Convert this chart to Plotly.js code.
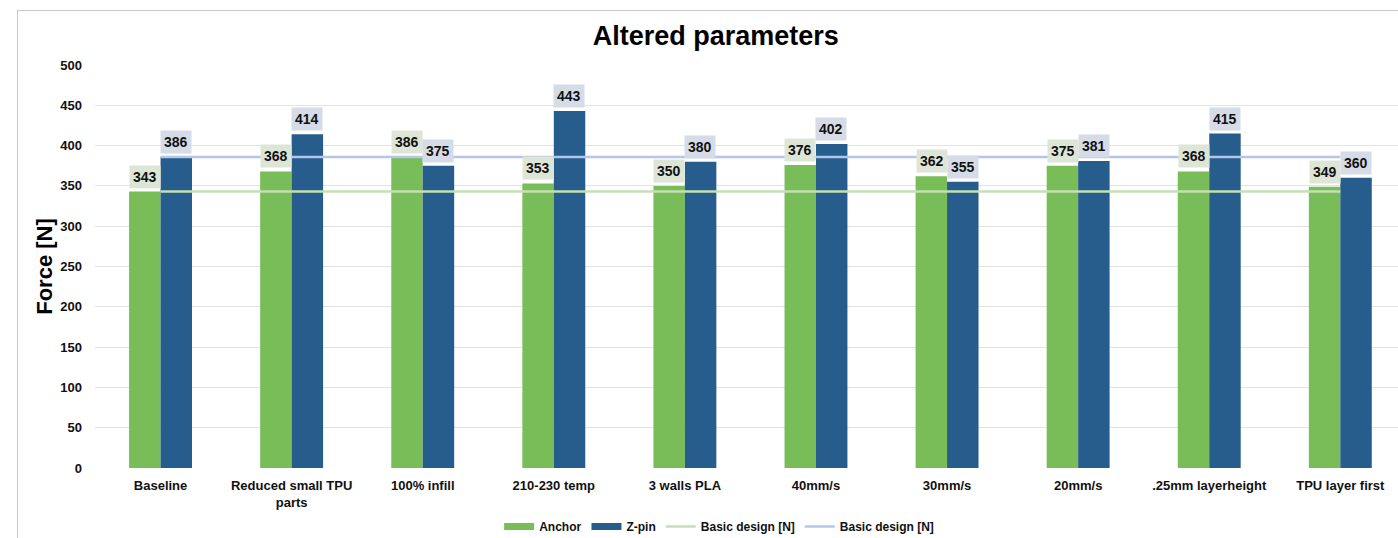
<!DOCTYPE html>
<html><head><meta charset="utf-8">
<script src="https://cdn.plot.ly/plotly-3.0.1.min.js"></script>
<style>
html,body{margin:0;padding:0;background:#fff;overflow:hidden;}
#frame{position:absolute;left:17px;top:10px;width:1400px;height:540px;border:1px solid #c8c8c8;box-sizing:border-box;}
#chart{position:absolute;left:0;top:0;width:1398px;height:538px;}
</style></head>
<body>
<div id="frame"></div>
<div id="chart"></div>
<script>
const categories = ["Baseline","Reduced small TPU<br>parts","100% infill","210-230 temp","3 walls PLA","40mm/s","30mm/s","20mm/s",".25mm layerheight","TPU layer first"];
const anchor = [343,368,386,353,350,376,362,375,368,349];
const zpin = [386,414,375,443,380,402,355,381,415,360];
const seriesNames = ["Anchor","Z-pin","Basic design [N]","Basic design [N]"];

const cAnchor = "#78bd58", cZpin = "#265d8c";
const cLineG = "#c5e0b4", cLineB = "#b4c7e7";
const F = "Liberation Sans, Arial, sans-serif";

const traces = [
  {type:"bar", name:seriesNames[0], x:categories, y:anchor, marker:{color:cAnchor}, showlegend:false},
  {type:"bar", name:seriesNames[1], x:categories, y:zpin, marker:{color:cZpin}, showlegend:false},
  {type:"scatter", mode:"lines", name:seriesNames[2], x:categories, y:categories.map(()=>anchor[0]), line:{color:cLineG,width:2.5}, showlegend:false},
  {type:"scatter", mode:"lines", name:seriesNames[3], x:categories, y:categories.map(()=>zpin[0]), line:{color:cLineB,width:2.5}, showlegend:false},
  // legend-only entries
  {type:"scatter", mode:"lines", name:seriesNames[0], x:[null], y:[null], line:{color:cAnchor,width:7}},
  {type:"scatter", mode:"lines", name:seriesNames[1], x:[null], y:[null], line:{color:cZpin,width:7}},
  {type:"scatter", mode:"lines", name:seriesNames[2], x:[null], y:[null], line:{color:cLineG,width:2.5}},
  {type:"scatter", mode:"lines", name:seriesNames[3], x:[null], y:[null], line:{color:cLineB,width:2.5}}
];

const annotations = [];
categories.forEach((c,i)=>{
  annotations.push({x:c, y:anchor[i], xref:"x", yref:"y", text:String(anchor[i]), showarrow:false,
    xshift:-15.5, yshift:3, yanchor:"bottom", bgcolor:"#dde5d6", borderpad:3,
    font:{family:F, size:14, color:"#111", weight:"bold"}});
  annotations.push({x:c, y:zpin[i], xref:"x", yref:"y", text:String(zpin[i]), showarrow:false,
    xshift:15.5, yshift:3, yanchor:"bottom", bgcolor:"#d5dce8", borderpad:3,
    font:{family:F, size:14, color:"#111", weight:"bold"}});
});

const layout = {
  width:1398, height:538,
  margin:{l:95, r:0, t:65, b:70, autoexpand:false},
  paper_bgcolor:"rgba(0,0,0,0)", plot_bgcolor:"#fff",
  font:{family:F, color:"#111"},
  title:{text:"Altered parameters", x:0.512, xanchor:"center", y:0.933, yanchor:"middle",
    font:{family:F, size:27, weight:"bold", color:"#000"}},
  barmode:"group", bargap:0.52, bargroupgap:0,
  xaxis:{type:"category", range:[-0.5, 9.44], showgrid:false, zeroline:false, showline:false, automargin:false,
    ticks:"", ticklabelstandoff:8, tickfont:{family:F, size:13, weight:"bold", color:"#111"}},
  yaxis:{range:[0,500], dtick:50, showgrid:true, gridcolor:"#e3e3e3", gridwidth:1, zeroline:false, automargin:false,
    ticks:"", ticklabelstandoff:12, tickfont:{family:F, size:13, weight:"bold", color:"#111"},
    title:{text:"Force [N]", standoff:1, font:{family:F, size:22, weight:"bold", color:"#000"}}},
  legend:{orientation:"h", x:0.479, xanchor:"center", y:-0.145, yanchor:"middle",
    font:{family:F, size:12, weight:"bold", color:"#111"}, itemwidth:30, tracegroupgap:0},
  showlegend:true,
  annotations:annotations
};

Plotly.newPlot("chart", traces, layout, {displayModeBar:false, staticPlot:true});
</script>
</body></html>
